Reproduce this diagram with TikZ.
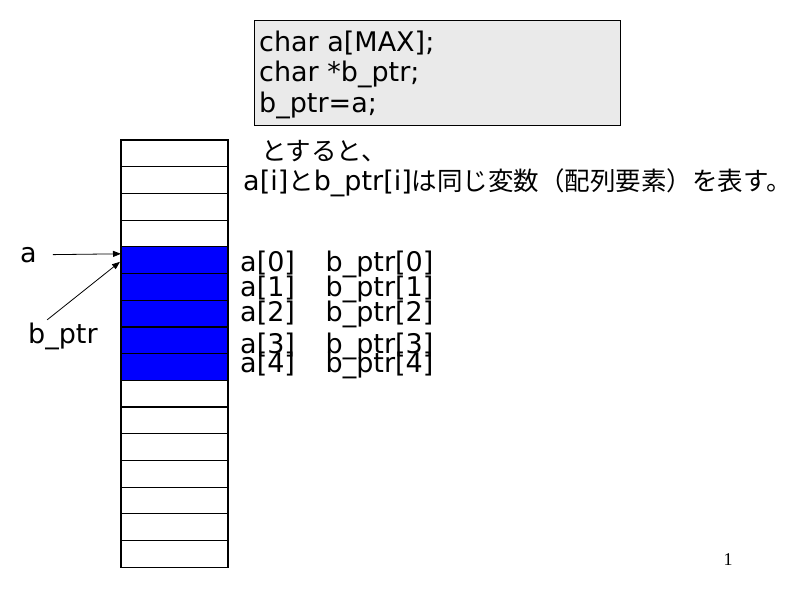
\documentclass[tikz,border=0pt]{standalone}
\usepackage{fontspec}
\setmainfont{DejaVu Sans}
\newfontfamily\jpfont{Noto Sans CJK JP}
\newfontfamily\pagefont{Liberation Serif}
\usetikzlibrary{arrows.meta}
\definecolor{boxgray}{RGB}{234,234,234}
\definecolor{memblue}{RGB}{0,0,255}
\newcommand\jtext[1]{{\jpfont\fontsize{25.5}{30}\selectfont #1}}
\begin{document}
\begin{tikzpicture}[x=1pt,y=-1pt,
  txt/.style={inner sep=0pt,anchor=base west,font=\fontsize{27}{31}\selectfont},
  cellbox/.style={draw=black,line width=1.2pt,minimum width=107pt,minimum height=26.7pt,inner sep=0pt,outer sep=0pt,anchor=north west},
  arr/.style={line width=0.8pt,-{Triangle[length=8pt,width=6pt]}}]
\useasboundingbox (0,0) rectangle (800,600);
% code box
\node[draw=black,fill=boxgray,line width=1pt,minimum width=366pt,minimum height=105pt,inner sep=0pt,anchor=north west] (codebox) at (254,20) {};
\node[txt] (code1) at (259,51) {char a[MAX];};
\node[txt] (code2) at (259,81.5) {char *b\_ptr;};
\node[txt] (code3) at (259,112) {b\_ptr=a;};
% explanation
\node[txt] (then) at (261,160.5) {\jtext{とすると、}};
\node[txt] (same) at (243,190.5) {a[i]\jtext{と}b\_ptr[i]\jtext{は同じ変数（配列要素）を表す。}};
% memory column
\foreach \i in {0,1,2,3,9,10,11,12,13,14,15} {
  \node[cellbox,fill=white] (cell\i) at (121,140+26.7*\i) {};
}
\foreach \i in {4,5,6,7,8} {
  \node[cellbox,fill=memblue] (cell\i) at (121,140+26.7*\i) {};
}
% element labels
\foreach \k/\yy in {0/271.7,1/296.7,2/321.7,3/353.3,4/372} {
  \node[txt] (ea\k) at (240,\yy) {a[\k]};
  \node[txt] (eb\k) at (325.5,\yy) {b\_ptr[\k]};
}
% pointer labels and arrows
\node[txt] (la) at (20,262) {a};
\node[txt] (lb) at (28,343.5) {b\_ptr};
\coordinate (pa) at ([yshift=-7pt]cell4.north west);
\coordinate (pb) at ([yshift=-15pt,xshift=-1pt]cell4.north west);
\draw[arr] ([xshift=16pt]la.east) -- (pa);
\draw[arr] ([xshift=-15.7pt,yshift=3pt]lb.north) -- (pb);
% page number
\node[inner sep=0pt,anchor=base,font=\pagefont\fontsize{18}{20}\selectfont] (pnum) at (728,565) {1};
\end{tikzpicture}
\end{document}
